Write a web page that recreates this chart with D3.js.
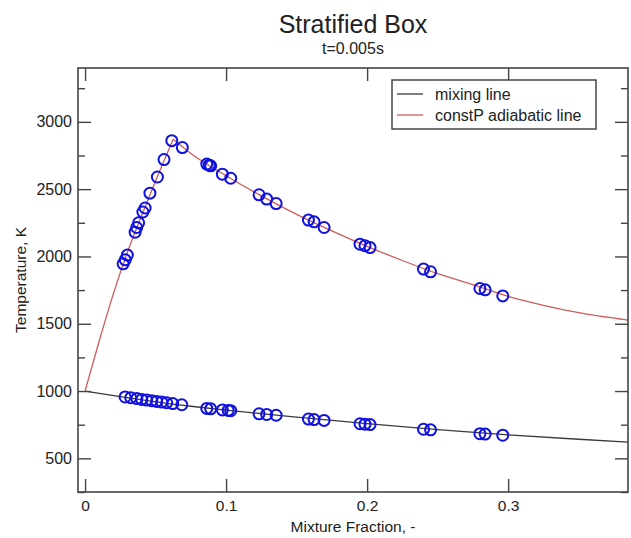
<!DOCTYPE html>
<html>
<head>
<meta charset="utf-8">
<script src="https://cdn.jsdelivr.net/npm/d3@7"></script>
<style>
  html, body { margin: 0; padding: 0; background: #fff; }
  svg { display: block; font-family: "Liberation Sans", Arial, Helvetica, sans-serif; }
</style>
</head>
<body>
<svg id="chart" width="631" height="538"></svg>
<script>
// Mixing line (unburnt), temperature vs mixture fraction
const mixLineZ = [0, 0.025, 0.05, 0.075, 0.1, 0.15, 0.2, 0.25, 0.3, 0.35, 0.39];
const mixLineT = [1000, 958, 920, 887, 858, 806, 758, 714, 675, 642, 618];

// Constant-pressure adiabatic (equilibrium) line, lean and rich branches
const adiaLeanZ = [0, 0.01, 0.02, 0.03, 0.04, 0.05, 0.0625];
const adiaLeanT = [1000, 1370, 1720, 2030, 2300, 2560, 2870];
const adiaRichZ = [0.0625, 0.075, 0.1, 0.125, 0.15, 0.175, 0.2, 0.225, 0.25, 0.275, 0.3, 0.325, 0.35, 0.39];
const adiaRichT = [2870, 2765, 2600, 2450, 2313, 2190, 2075, 1970, 1872, 1790, 1703, 1637, 1582, 1520];

// Burnt samples
const burnedZ = [0.0270, 0.0285, 0.0300, 0.0355, 0.0366, 0.0380, 0.0410, 0.0426, 0.0460, 0.0513, 0.0560, 0.0615,
                 0.0690, 0.0863, 0.0880, 0.0891, 0.0974, 0.1033, 0.1234, 0.1288, 0.1355, 0.1584, 0.1624, 0.1695,
                 0.1950, 0.1985, 0.2021, 0.2400, 0.2450, 0.2800, 0.2837, 0.2962];
const burnedT = [1945, 1975, 2010, 2180, 2215, 2250, 2330, 2360, 2470, 2590, 2720, 2860,
                 2809, 2686, 2678, 2673, 2611, 2581, 2458, 2426, 2393, 2270, 2257, 2215,
                 2091, 2080, 2066, 1906, 1886, 1762, 1752, 1707];

// Unburnt samples
const mixedZ = [0.0284, 0.0324, 0.0367, 0.0402, 0.0437, 0.0473, 0.0508, 0.0544, 0.0579, 0.0622, 0.0686,
                0.0863, 0.0891, 0.0974, 0.1015, 0.1033, 0.1234, 0.1288, 0.1355, 0.1584, 0.1624, 0.1695,
                0.1950, 0.1985, 0.2021, 0.2400, 0.2450, 0.2800, 0.2837, 0.2962];
const mixedT = [956, 950, 944, 938, 933, 928, 923, 918, 913, 907, 898,
                871, 868, 860, 856, 854, 831, 826, 820, 792, 788, 782,
                757, 754, 751, 716, 712, 683, 680, 672];

const xTicks = [0, 0.1, 0.2, 0.3];
const yTicks = [500, 1000, 1500, 2000, 2500, 3000];
const yMinorTicks = [250, 750, 1250, 1750, 2250, 2750, 3250];

const legendLabels = ["mixing line", "constP adiabatic line"];
const lineColors = ["#3a3a3a", "#cd5c5c"];
const markerColor = "#1010e0";

const svg = d3.select("#chart");
const pLeft = 78, pRight = 628, pTop = 68, pBottom = 492;

const x = d3.scaleLinear().domain([-0.005, 0.385]).range([pLeft, pRight]);
const y = d3.scaleLinear().domain([250, 3400]).range([pBottom, pTop]);

svg.append("defs").append("clipPath").attr("id", "plotClip")
  .append("rect").attr("x", pLeft).attr("y", pTop).attr("width", pRight - pLeft).attr("height", pBottom - pTop);

const plot = svg.append("g").attr("clip-path", "url(#plotClip)");

const line = d3.line().x(d => x(d[0])).y(d => y(d[1])).curve(d3.curveMonotoneX);
const pairs = (zs, ts) => zs.map((z, i) => [z, ts[i]]);

plot.append("path").attr("d", line(pairs(mixLineZ, mixLineT)))
  .attr("fill", "none").attr("stroke", lineColors[0]).attr("stroke-width", 1.3);
plot.append("path").attr("d", line(pairs(adiaLeanZ, adiaLeanT)))
  .attr("fill", "none").attr("stroke", lineColors[1]).attr("stroke-width", 1.3);
plot.append("path").attr("d", line(pairs(adiaRichZ, adiaRichT)))
  .attr("fill", "none").attr("stroke", lineColors[1]).attr("stroke-width", 1.3);

// sample markers
const drawMarkers = (zs, ts) => plot.append("g").selectAll("circle")
  .data(pairs(zs, ts)).join("circle")
  .attr("cx", d => x(d[0])).attr("cy", d => y(d[1])).attr("r", 5.5)
  .attr("fill", "none").attr("stroke", markerColor).attr("stroke-width", 2);
drawMarkers(mixedZ, mixedT);
drawMarkers(burnedZ, burnedT);

// axes: ticks point inward on all four sides
const tickFmtX = d => d === 0 ? "0" : d3.format(".1f")(d);
const styleAxis = (g, size) => {
  g.select(".domain").remove();
  g.selectAll(".tick line").attr("stroke", "#444").attr("stroke-width", 1.4);
  g.selectAll(".tick text").attr("fill", "#222").attr("font-size", size || 16)
    .attr("font-family", "'Liberation Sans', Arial, sans-serif");
};

svg.append("g").attr("transform", `translate(0,${pBottom})`)
  .call(d3.axisBottom(x).tickValues(xTicks).tickFormat(tickFmtX).tickSizeInner(-13).tickSizeOuter(0).tickPadding(8))
  .call(styleAxis, 15.5);
svg.append("g").attr("transform", `translate(0,${pTop})`)
  .call(d3.axisTop(x).tickValues(xTicks).tickFormat("").tickSizeInner(-13).tickSizeOuter(0))
  .call(styleAxis);
svg.append("g").attr("transform", `translate(${pLeft},0)`)
  .call(d3.axisLeft(y).tickValues(yTicks).tickFormat(d3.format("d")).tickSizeInner(-13).tickSizeOuter(0).tickPadding(6))
  .call(styleAxis);
svg.append("g").attr("transform", `translate(${pLeft},0)`)
  .call(d3.axisLeft(y).tickValues(yMinorTicks).tickFormat("").tickSizeInner(-7).tickSizeOuter(0))
  .call(styleAxis);
svg.append("g").attr("transform", `translate(${pRight},0)`)
  .call(d3.axisRight(y).tickValues(yTicks).tickFormat("").tickSizeInner(-13).tickSizeOuter(0))
  .call(styleAxis);
svg.append("g").attr("transform", `translate(${pRight},0)`)
  .call(d3.axisRight(y).tickValues(yMinorTicks).tickFormat("").tickSizeInner(-7).tickSizeOuter(0))
  .call(styleAxis);

// frame
svg.append("rect").attr("x", pLeft).attr("y", pTop).attr("width", pRight - pLeft).attr("height", pBottom - pTop)
  .attr("fill", "none").attr("stroke", "#444").attr("stroke-width", 1.6);

// titles
svg.append("text").attr("x", (pLeft + pRight) / 2).attr("y", 33).attr("text-anchor", "middle")
  .attr("font-size", 25).attr("fill", "#222").text("Stratified Box");
svg.append("text").attr("x", (pLeft + pRight) / 2).attr("y", 54).attr("text-anchor", "middle")
  .attr("font-size", 16).attr("fill", "#222").text("t=0.005s");
svg.append("text").attr("x", (pLeft + pRight) / 2).attr("y", 532).attr("text-anchor", "middle")
  .attr("font-size", 15.5).attr("fill", "#222").text("Mixture Fraction, -");
svg.append("text").attr("transform", `translate(26,${(pTop + pBottom) / 2}) rotate(-90)`)
  .attr("text-anchor", "middle").attr("font-size", 15.5).attr("fill", "#222").text("Temperature, K");

// legend
const lg = svg.append("g").attr("transform", "translate(392,80)");
lg.append("rect").attr("width", 204).attr("height", 49).attr("fill", "#fff")
  .attr("stroke", "#444").attr("stroke-width", 1.5);
legendLabels.forEach((lab, i) => {
  const ly = 14 + i * 21;
  lg.append("line").attr("x1", 5).attr("x2", 31).attr("y1", ly).attr("y2", ly)
    .attr("stroke", lineColors[i]).attr("stroke-width", 1.3);
  lg.append("text").attr("x", 43).attr("y", ly + 5.5).attr("font-size", 16).attr("fill", "#222").text(lab);
});
</script>
</body>
</html>
